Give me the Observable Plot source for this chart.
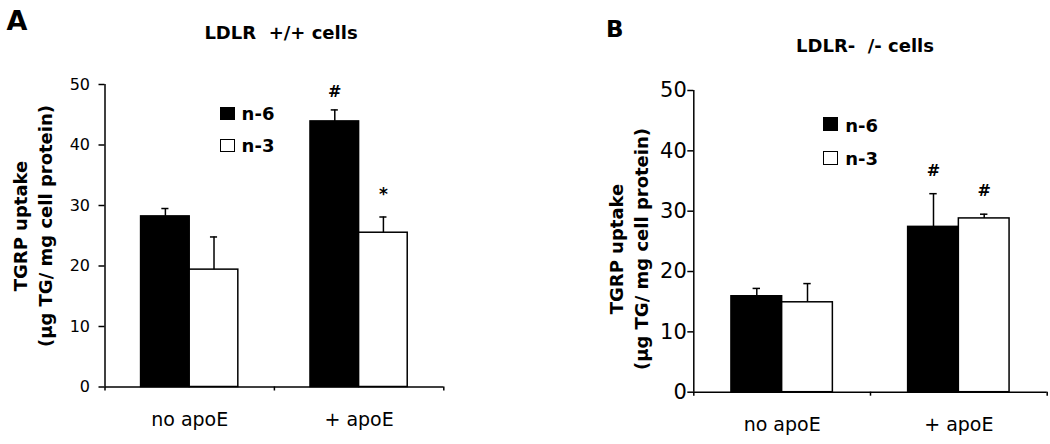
<!DOCTYPE html>
<html>
<head>
<meta charset="utf-8">
<script src="https://cdn.jsdelivr.net/npm/d3@7"></script>
<script src="https://cdn.jsdelivr.net/npm/@observablehq/plot@0.6"></script>
<style>
  html, body { margin: 0; padding: 0; background: #fff; }
  #root { position: relative; width: 1050px; height: 444px; overflow: hidden; font-family: "DejaVu Sans", sans-serif; color: #000; }
  .abs { position: absolute; white-space: pre; line-height: 1; }
  .b { font-weight: bold; }
  .sq { position: absolute; box-sizing: border-box; border: 1.5px solid #000; }
  .ylab { position: absolute; white-space: nowrap; font-weight: bold; font-size: 18px; line-height: 25px; text-align: center; transform: translate(-50%, -50%) rotate(-90deg); }
</style>
</head>
<body>
<div id="root"></div>
<script>
// ---- data ----
const groups = ["no apoE", "+ apoE"];
const series = ["n-6", "n-3"];
const yTicks = [0, 10, 20, 30, 40, 50];

// Panel A: LDLR +/+ cells
const meanA_n6 = [28.2, 43.9];
const errA_n6  = [1.3, 1.9];
const meanA_n3 = [19.4, 25.5];
const errA_n3  = [5.4, 2.6];
const sigA_n6  = ["", "#"];
const sigA_n3  = ["", "*"];

// Panel B: LDLR-/- cells
const meanB_n6 = [15.9, 27.4];
const errB_n6  = [1.3, 5.5];
const meanB_n3 = [14.9, 28.8];
const errB_n3  = [3.1, 0.7];
const sigB_n6  = ["", "#"];
const sigB_n3  = ["", "#"];

// ---- layout helpers ----
const barStart = {"n-6": 0.213, "n-3": 0.5};
const barWidth = 0.287;
const capHalf = 0.021;

function rows(m6, e6, s6, m3, e3, s3) {
  const out = [];
  groups.forEach((g, i) => {
    [["n-6", m6, e6, s6], ["n-3", m3, e3, s3]].forEach(([s, m, e, sg]) => {
      const x1 = i + barStart[s];
      out.push({group: g, series: s, mean: m[i], err: e[i], top: m[i] + e[i], sig: sg[i],
                x1, x2: x1 + barWidth, xc: x1 + barWidth / 2});
    });
  });
  return out;
}

function panel(data, o) {
  return Plot.plot({
    width: 525, height: 444,
    marginLeft: o.ml, marginRight: o.mr, marginTop: o.mt, marginBottom: o.mb,
    style: {fontFamily: "DejaVu Sans, sans-serif", background: "transparent", color: "#000"},
    x: {domain: [0, groups.length]},
    y: {domain: [0, 50]},
    marks: [
      Plot.rectY(data, {x1: "x1", x2: "x2", y1: 0, y2: "mean",
        fill: d => d.series === "n-6" ? "#000" : "#fff", stroke: "#000", strokeWidth: 1.5}),
      Plot.ruleX(data, {x: "xc", y1: "mean", y2: "top", stroke: "#000", strokeWidth: 1.5}),
      Plot.ruleY(data, {y: "top", x1: d => d.xc - capHalf, x2: d => d.xc + capHalf, stroke: "#000", strokeWidth: 1.5}),
      Plot.text(data.filter(d => d.sig === "#"), {x: "xc", y: "top", text: "sig", lineAnchor: "bottom", dy: o.dyHash,
        fontSize: 16, fontWeight: "bold", fill: "#000"}),
      Plot.text(data.filter(d => d.sig === "*"), {x: "xc", y: "top", text: "sig", lineAnchor: "bottom", dy: o.dyStar,
        fontSize: 17, fontWeight: "bold", fill: "#000"}),
      Plot.ruleY([0], {stroke: "#000", strokeWidth: 1.5}),
      Plot.ruleX([0], {stroke: "#000", strokeWidth: 1.5}),
      Plot.axisY({ticks: yTicks, tickSize: 6, tickPadding: o.tp, fontSize: o.fs, label: null, strokeWidth: 1.5}),
      Plot.axisX({ticks: d3.range(groups.length + 1), tickSize: 4, tickFormat: () => "", label: null, strokeWidth: 1.5}),
      Plot.axisX({ticks: groups.map((g, i) => i + 0.5), tickSize: 0, tickPadding: 25, fontSize: 19,
        tickFormat: d => groups[Math.floor(d)], label: null})
    ]
  });
}

const root = document.getElementById("root");

function place(el, left, top) {
  el.style.position = "absolute";
  el.style.left = left + "px";
  el.style.top = top + "px";
  root.appendChild(el);
}

const A = panel(rows(meanA_n6, errA_n6, sigA_n6, meanA_n3, errA_n3, sigA_n3),
  {ml: 104.5, mr: 81.7, mt: 84, mb: 57.5, fs: 16, tp: 9, dyHash: -13, dyStar: -17});
place(A, 0, 0);
const B = panel(rows(meanB_n6, errB_n6, sigB_n6, meanB_n3, errB_n3, sigB_n3),
  {ml: 168.3, mr: 3.3, mt: 90, mb: 52.3, fs: 21, tp: 1, dyHash: -18, dyStar: -17});
place(B, 525, 0);

function text(str, left, top, size, cls, center) {
  const d = document.createElement("div");
  d.className = "abs " + (cls || "");
  d.textContent = str;
  d.style.fontSize = size + "px";
  d.style.left = left + "px";
  d.style.top = top + "px";
  if (center) d.style.transform = "translateX(-50%)";
  root.appendChild(d);
}
function square(left, top, w, h, fill) {
  const d = document.createElement("div");
  d.className = "sq";
  d.style.left = left + "px"; d.style.top = top + "px";
  d.style.width = w + "px"; d.style.height = h + "px";
  d.style.background = fill;
  root.appendChild(d);
}
function ylabel(lines, cx, cy) {
  const d = document.createElement("div");
  d.className = "ylab";
  d.innerHTML = lines.map(l => l.replace(/&/g, "&amp;").replace(/</g, "&lt;")).join("<br>");
  d.style.left = cx + "px"; d.style.top = cy + "px";
  root.appendChild(d);
}

// Panel letters and titles
text("A", 6.5, 7.2, 27, "b");
text("LDLR  +/+ cells", 281, 23.8, 18, "b", true);
text("B", 606, 17.8, 23, "b");
text("LDLR-  /- cells", 865, 36.8, 18, "b", true);

// Y-axis titles
const yTitle = ["TGRP uptake", "(µg TG/ mg cell protein)"];
ylabel(yTitle, 33.25, 226);
ylabel(yTitle, 629.25, 249);

// Legends
square(220, 107, 15, 13, "#000");
text(series[0], 241.6, 104.8, 18, "b");
square(220, 139, 15, 13, "#fff");
text(series[1], 241.6, 136.8, 18, "b");

square(823, 117, 15, 14, "#000");
text(series[0], 845.3, 116.8, 18, "b");
square(823, 151, 15, 14, "#fff");
text(series[1], 845.3, 149.8, 18, "b");
</script>
</body>
</html>
